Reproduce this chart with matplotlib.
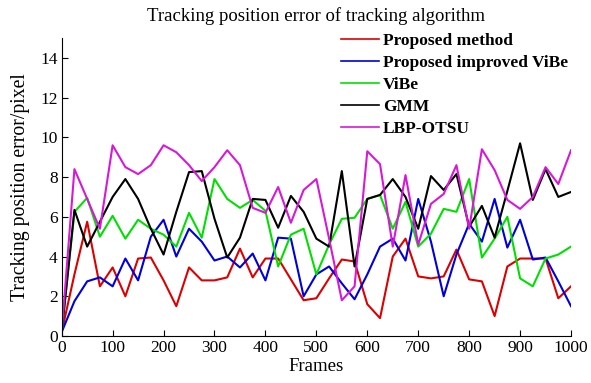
import matplotlib
matplotlib.use('Agg')
import matplotlib.pyplot as plt

# frames sampled every 25
frames = [0, 25, 50, 75, 100, 125, 150, 175, 200, 225, 250, 275, 300, 325, 350,
          375, 400, 425, 450, 475, 500, 525, 550, 575, 600, 625, 650, 675, 700,
          725, 750, 775, 800, 825, 850, 875, 900, 925, 950, 975, 1000]

proposed = [0.2, 3.1, 5.75, 2.5, 3.45, 2.0, 3.9, 3.95, 2.8, 1.5, 3.45, 2.8, 2.8, 2.95,
            4.4, 2.95, 3.9, 3.9, 2.85, 1.8, 1.9, 2.9, 3.85, 3.75, 1.6, 0.9, 4.0, 4.9,
            3.0, 2.9, 3.0, 4.35, 2.85, 2.75, 1.0, 3.5, 3.9, 3.9, 3.9, 1.9, 2.5]
improved_vibe = [0.2, 1.75, 2.75, 2.95, 2.5, 3.9, 2.8, 5.0, 5.85, 4.0, 5.4, 4.75, 3.8,
                 4.0, 3.45, 4.15, 2.8, 4.95, 4.9, 2.0, 3.1, 3.5, 2.65, 1.85, 3.1, 4.5,
                 4.9, 3.8, 6.9, 4.75, 2.0, 4.1, 5.65, 4.75, 6.9, 4.45, 5.85, 3.85, 3.95,
                 2.75, 1.5]
vibe = [0.2, 6.25, 6.95, 5.0, 6.05, 4.9, 5.85, 5.4, 5.1, 4.5, 6.2, 4.95, 7.9, 6.9, 6.45,
        6.85, 6.3, 3.5, 5.1, 5.4, 3.1, 4.6, 5.9, 5.95, 6.9, 7.1, 5.4, 6.75, 4.5, 5.15,
        6.4, 6.25, 7.9, 3.95, 4.9, 6.0, 2.9, 2.5, 3.9, 4.1, 4.5]
gmm = [0.2, 6.35, 4.5, 5.75, 7.0, 7.9, 6.9, 5.4, 4.1, 6.25, 8.25, 8.3, 5.9, 3.95, 4.95,
       6.9, 6.85, 5.45, 7.05, 6.25, 4.9, 4.5, 8.3, 3.5, 6.9, 7.1, 7.9, 7.0, 5.4, 8.05,
       7.35, 8.15, 5.5, 6.55, 4.95, 7.3, 9.7, 6.85, 8.4, 7.0, 7.25]
lbp_otsu = [0.2, 8.4, 6.9, 5.4, 9.6, 8.5, 8.15, 8.6, 9.6, 9.25, 8.6, 7.8, 8.5, 9.35, 8.6,
            6.45, 6.2, 7.5, 5.7, 7.35, 7.9, 4.9, 1.8, 2.5, 9.3, 8.65, 4.5, 8.1, 4.6,
            6.65, 7.15, 8.6, 5.4, 9.4, 8.35, 6.85, 6.4, 7.0, 8.5, 7.65, 9.35]

labels = ['Proposed method', 'Proposed improved ViBe', 'ViBe', 'GMM', 'LBP-OTSU']
colors = ['#dd0000', '#0000dd', '#00e000', '#000000', '#d818d8']
xticks = [0, 100, 200, 300, 400, 500, 600, 700, 800, 900, 1000]
yticks = [0, 2, 4, 6, 8, 10, 12, 14]

plt.rcParams['font.family'] = ['Liberation Serif', 'DejaVu Serif']

fig = plt.figure(figsize=(5.91, 3.83), dpi=100)
ax = fig.add_axes([0.1044, 0.1227, 0.8618, 0.7781])

for series, lab, col in zip([proposed, improved_vibe, vibe, gmm, lbp_otsu], labels, colors):
    ax.plot(frames, series, color=col, linewidth=1.5, label=lab)

ax.set_xlim(0, 1000)
ax.set_ylim(0, 15)
ax.set_xticks(xticks)
ax.set_yticks(yticks)
ax.tick_params(direction='in', length=4, labelsize=12.5, pad=3)
ax.spines['top'].set_visible(False)
ax.spines['right'].set_visible(False)

ax.set_title('Tracking position error of tracking algorithm', fontsize=13.5, pad=12)
ax.set_xlabel('Frames', fontsize=13.5, labelpad=1)
ax.set_ylabel('Tracking position error/pixel', fontsize=14.2, labelpad=7)

# legend sits inside the top of the axes, no frame
leg = ax.legend(loc='upper left', bbox_to_anchor=(0.534, 1.04), frameon=False,
                prop={'size': 12.5, 'weight': 'bold'}, handlelength=2.2,
                handletextpad=0.25, labelspacing=0.34, borderaxespad=0)
for h in leg.get_lines():
    h.set_linewidth(1.2)

plt.savefig('out.png', dpi=100)
plt.close()
